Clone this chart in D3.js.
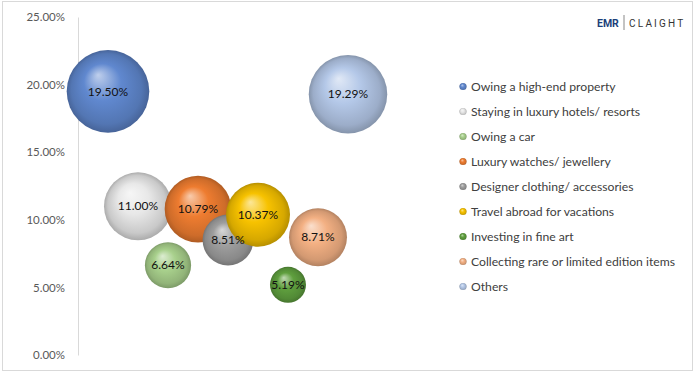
<!DOCTYPE html>
<html>
<head>
<meta charset="utf-8">
<script src="https://cdn.jsdelivr.net/npm/d3@7"></script>
<style>
  body { margin: 0; background: #fff; }
  svg { display: block; font-family: Lato, "Open Sans", sans-serif; }
</style>
</head>
<body>
<div id="box"></div>
<script>
// 画布基本参数
const width = 695
const height = 373

// 数据
const categories = [
  'Owing a high-end property',
  'Staying in luxury hotels/ resorts',
  'Owing a car',
  'Luxury watches/ jewellery',
  'Designer clothing/ accessories',
  'Travel abroad for vacations',
  'Investing in fine art',
  'Collecting rare or limited edition items',
  'Others'
]
const shares = [19.50, 11.00, 6.64, 10.79, 8.51, 10.37, 5.19, 8.71, 19.29]
// 气泡大小（按图中面积估读）
const bubbleSizes = [19.5, 13.2, 6.1, 12.7, 7.4, 11.7, 3.7, 9.6, 17.6]
const yTicks = [0, 5, 10, 15, 20, 25]
const colors = ['#6088cf', '#e8e8e8', '#a8d08c', '#ee7c30', '#9e9e9e', '#f7c200', '#5f9f3e', '#f3b083', '#b4c8e8']

// 比例尺
const x = d3.scaleLinear().domain([0, 1]).range([78, 108])
const y = d3.scaleLinear().domain([0, 25]).range([355, 17])
const r = d3.scaleSqrt().domain([0, 19.5]).range([0, 41.3])

const svg = d3.select('#box').append('svg')
  .attr('width', width)
  .attr('height', height)

// 外框
svg.append('rect')
  .attr('x', 2.5).attr('y', 1.5)
  .attr('width', 690).attr('height', 369)
  .attr('fill', '#fff')
  .attr('stroke', '#d9d9d9')

// 球体渐变
const defs = svg.append('defs')
colors.forEach((c, i) => {
  const g = defs.append('radialGradient')
    .attr('id', 'ball' + i)
    .attr('cx', '50%').attr('cy', '50%').attr('r', '50%')
    .attr('fx', '38%').attr('fy', '30%')
  const base = d3.color(c)
  g.append('stop').attr('offset', '0%').attr('stop-color', d3.interpolateRgb(c, '#fff')(0.6))
  g.append('stop').attr('offset', '45%').attr('stop-color', c)
  g.append('stop').attr('offset', '85%').attr('stop-color', base.darker(0.4))
  g.append('stop').attr('offset', '100%').attr('stop-color', base.darker(0.85))
})

// y 轴
const yAxis = d3.axisLeft(y)
  .tickValues(yTicks)
  .tickSize(0)
  .tickPadding(13)
  .tickFormat(d => d.toFixed(2) + '%')

svg.append('g')
  .attr('transform', `translate(${x(0)},0)`)
  .call(yAxis)
  .call(g => g.select('.domain').attr('stroke', '#d9d9d9'))
  .call(g => g.selectAll('text').attr('fill', '#595959').style('font-size', '11.5px').style('font-family', 'Lato, sans-serif'))

// 气泡
const data = categories.map((name, i) => ({ name, value: shares[i], size: bubbleSizes[i], i }))

svg.append('g').selectAll('circle').data(data)
  .join('circle')
  .attr('cx', d => x(d.i + 1))
  .attr('cy', d => y(d.value))
  .attr('r', d => r(d.size))
  .attr('fill', d => `url(#ball${d.i})`)

svg.append('g').selectAll('text').data(data)
  .join('text')
  .attr('x', d => x(d.i + 1))
  .attr('y', d => y(d.value))
  .attr('dy', '0.35em')
  .attr('text-anchor', 'middle')
  .attr('fill', '#111')
  .style('font-size', '12px')
  .text(d => d.value.toFixed(2) + '%')

// 图例
const legend = svg.append('g').attr('transform', 'translate(463,86.5)')
const item = legend.selectAll('g').data(data)
  .join('g')
  .attr('transform', (d, i) => `translate(0,${i * 25})`)
item.append('circle')
  .attr('r', 3.6)
  .attr('fill', d => `url(#ball${d.i})`)
item.append('text')
  .attr('x', 8)
  .attr('dy', '0.35em')
  .attr('fill', '#404040')
  .style('font-size', '12.2px')
  .text(d => d.name)

// 标志
const logo = svg.append('g').attr('transform', 'translate(597,27)')
logo.append('text')
  .attr('fill', '#1c3f7a')
  .style('font-size', '10.5px')
  .style('font-weight', 'bold')
  .style('font-family', 'Roboto, sans-serif')
  .text('EMR')
logo.append('line')
  .attr('x1', 27).attr('x2', 27).attr('y1', -12).attr('y2', 3)
  .attr('stroke', '#888')
logo.append('text')
  .attr('x', 32)
  .attr('fill', '#333')
  .style('font-size', '10px')
  .style('letter-spacing', '2.2px')
  .style('font-family', 'Roboto, sans-serif')
  .text('CLAIGHT')
</script>
</body>
</html>
